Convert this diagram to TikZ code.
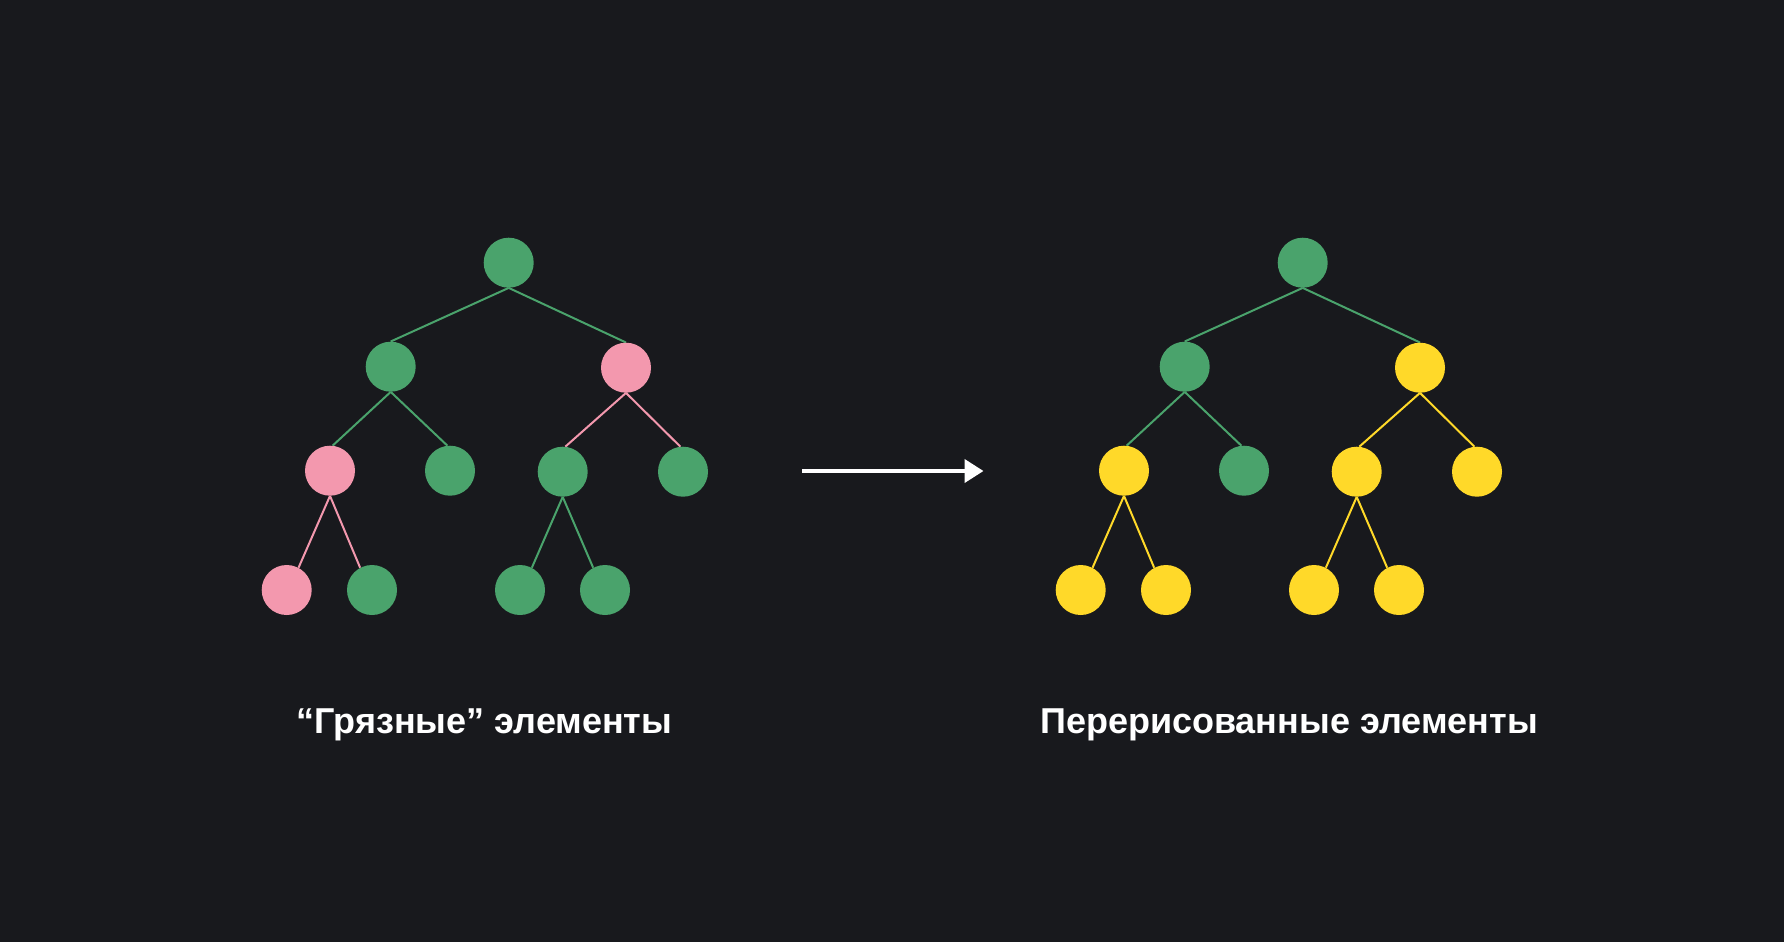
\documentclass[tikz,border=0pt]{standalone}
\usepackage{fontspec}
\setmainfont{Liberation Sans}
\usetikzlibrary{arrows.meta,backgrounds}
\definecolor{bg}{RGB}{24,25,29}
\definecolor{gr}{RGB}{74,163,108}
\definecolor{pk}{RGB}{243,152,174}
\definecolor{yl}{RGB}{255,217,41}
\tikzset{
  dot/.style={circle,inner sep=0pt,minimum size=50pt,fill=#1},
  edge/.style={draw=#1,line width=2pt},
  lbl/.style={text=white,font=\fontsize{36}{42}\selectfont\bfseries,anchor=base,inner sep=0pt}
}
\begin{document}
\begin{tikzpicture}[x=1pt,y=-1pt]
\useasboundingbox (0,0) rectangle (1784,942);
% left tree
\node[dot=gr] (a0) at (508.7,262.7) {};
\node[dot=gr] (a1) at (390.7,366.7) {};
\node[dot=pk] (a2) at (626,367.7) {};
\node[dot=pk] (a3) at (330,470.7) {};
\node[dot=gr] (a4) at (450,470.7) {};
\node[dot=gr] (a5) at (562.7,471.7) {};
\node[dot=gr] (a6) at (683,471.7) {};
\node[dot=pk] (a7) at (286.7,590) {};
\node[dot=gr] (a8) at (372,590) {};
\node[dot=gr] (a9) at (520,590) {};
\node[dot=gr] (a10) at (605,590) {};
% right tree
\node[dot=gr] (b0) at (1302.7,262.7) {};
\node[dot=gr] (b1) at (1184.7,366.7) {};
\node[dot=yl] (b2) at (1420,367.7) {};
\node[dot=yl] (b3) at (1124,470.7) {};
\node[dot=gr] (b4) at (1244,470.7) {};
\node[dot=yl] (b5) at (1356.7,471.7) {};
\node[dot=yl] (b6) at (1477,471.7) {};
\node[dot=yl] (b7) at (1080.7,590) {};
\node[dot=yl] (b8) at (1166,590) {};
\node[dot=yl] (b9) at (1314,590) {};
\node[dot=yl] (b10) at (1399,590) {};
\begin{scope}[on background layer]
\fill[bg] (0,0) rectangle (1784,942);
\path[edge=gr] (a0.south) -- (a1.north);
\path[edge=gr] (a0.south) -- (a2.north);
\path[edge=gr] (a1.south) -- (a3.84);
\path[edge=gr] (a1.south) -- (a4.96);
\path[edge=pk] (a2.south) -- (a5.84);
\path[edge=pk] (a2.south) -- (a6.96);
\path[edge=pk] (a3.south) -- (a7.62);
\path[edge=pk] (a3.south) -- (a8.118);
\path[edge=gr] (a5.south) -- (a9.62);
\path[edge=gr] (a5.south) -- (a10.118);
\path[edge=gr] (b0.south) -- (b1.north);
\path[edge=gr] (b0.south) -- (b2.north);
\path[edge=gr] (b1.south) -- (b3.84);
\path[edge=gr] (b1.south) -- (b4.96);
\path[edge=yl] (b2.south) -- (b5.84);
\path[edge=yl] (b2.south) -- (b6.96);
\path[edge=yl] (b3.south) -- (b7.62);
\path[edge=yl] (b3.south) -- (b8.118);
\path[edge=yl] (b5.south) -- (b9.62);
\path[edge=yl] (b5.south) -- (b10.118);
\end{scope}
% arrow
\coordinate (s) at (802,471);
\coordinate (e) at (983.5,471);
\draw[white,line width=4pt,-{Triangle[length=19pt,width=23pt]}] (s) -- (e);
% labels
\node[lbl] (t1) at (484.5,733) {“Грязные” элементы};
\node[lbl] (t2) at (1289,733) {Перерисованные элементы};
\end{tikzpicture}
\end{document}
